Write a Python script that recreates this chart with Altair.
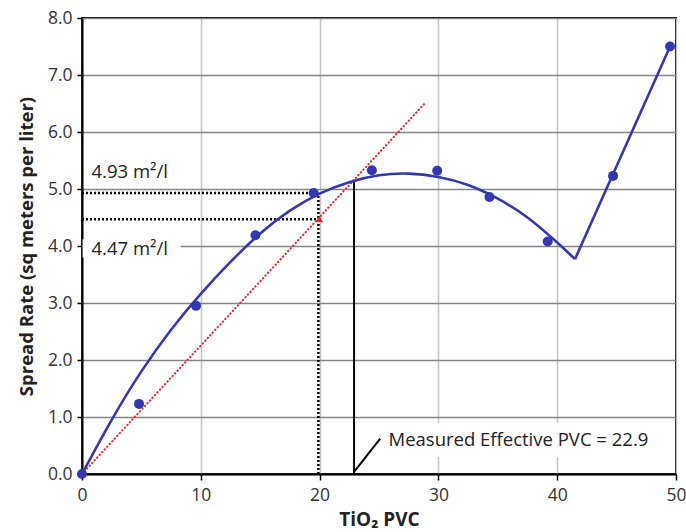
import altair as alt
import pandas as pd

# measured points
pvc = [0, 4.8, 9.6, 14.6, 19.5, 24.4, 29.9, 34.3, 39.2, 44.7, 49.5]
spread = [0, 1.23, 2.95, 4.19, 4.93, 5.33, 5.32, 4.86, 4.08, 5.23, 7.50]

# fitted curve (smooth part, then straight part)
curve_x = [0, 2.5, 5, 7.5, 10, 12.5, 15, 17.5, 20, 22.5, 25, 27.5, 30, 32.5, 35, 37.5, 40, 41.5]
curve_y = [0, 0.95, 1.80, 2.53, 3.16, 3.72, 4.22, 4.62, 4.92, 5.12, 5.24, 5.27, 5.21, 5.07, 4.83, 4.50, 4.06, 3.77]
line2_x = [41.5, 49.5]
line2_y = [3.77, 7.50]

# red dotted tangent line and marker
red_x = [0, 28.8]
red_y = [0, 6.49]
red_pt_x = [20]
red_pt_y = [4.47]

# dotted reference lines
dot_x1 = [0, 0, 19.9]
dot_x2 = [19.9, 19.9, 19.9]
dot_y1 = [4.93, 4.47, 0]
dot_y2 = [4.93, 4.47, 4.93]

# effective PVC marker
eff_pvc = 22.9
eff_top = 5.16

labels = ["4.93 m²/l", "4.47 m²/l", "Measured Effective PVC = 22.9"]
label_x = [0.8, 0.8, 25.8]
label_y = [5.3, 3.95, 0.6]

FONT = "Open Sans"
BLUE = "#3438b0"

xs = alt.Scale(domain=[0, 50], nice=False)
ys = alt.Scale(domain=[0, 8], nice=False)

x_axis = alt.Axis(values=[0, 10, 20, 30, 40, 50], title="TiO₂ PVC",
                  grid=True, gridColor="#c4c4c4", gridWidth=1.5,
                  domainColor="black", domainWidth=2, tickColor="black", tickWidth=1.5,
                  tickSize=6, labelPadding=6, labelFontSize=17.5, labelColor="#333",
                  labelFont=FONT, titleFont=FONT, titleFontSize=19, titleFontWeight="bold",
                  titleColor="#222", titlePadding=7, labelFlush=False)
y_axis = alt.Axis(values=[0, 1, 2, 3, 4, 5, 6, 7, 8], format=".1f",
                  title="Spread Rate (sq meters per liter)",
                  grid=True, gridColor="#858585", gridWidth=1.5,
                  domainColor="black", domainWidth=2, tickColor="black", tickWidth=1.5,
                  tickSize=5, labelPadding=5, labelFontSize=17.5, labelColor="#333",
                  labelFont=FONT, titleFont=FONT, titleFontSize=18.5, titleFontWeight="bold",
                  titleColor="#222", titlePadding=11)

base_axes = alt.Chart(pd.DataFrame({"x": [0], "y": [0]})).mark_point(opacity=0).encode(
    x=alt.X("x:Q", scale=xs, axis=x_axis),
    y=alt.Y("y:Q", scale=ys, axis=y_axis),
)

X = lambda f: alt.X(f, scale=xs)
Y = lambda f: alt.Y(f, scale=ys)

# white boxes behind labels
box_df = pd.DataFrame({"x": [0.05, 25.4], "x2": [8.3, 48.8], "y": [3.8, 0.3], "y2": [4.12, 0.9]})
boxes = alt.Chart(box_df).mark_rect(color="white").encode(
    x=X("x:Q"), x2="x2", y=Y("y:Q"), y2="y2")

dots_df = pd.DataFrame({"x": dot_x1, "x2": dot_x2, "y": dot_y1, "y2": dot_y2})
dots = alt.Chart(dots_df).mark_rule(color="black", strokeWidth=2.5, strokeDash=[2, 2]).encode(
    x=X("x:Q"), x2="x2", y=Y("y:Q"), y2="y2")

red_df = pd.DataFrame({"x": red_x, "y": red_y})
red_line = alt.Chart(red_df).mark_line(color="#e8262a", strokeWidth=2, strokeDash=[0.5, 3.2],
                                       strokeCap="round").encode(
    x=X("x:Q"), y=Y("y:Q"))
red_pt = alt.Chart(pd.DataFrame({"x": red_pt_x, "y": red_pt_y})).mark_point(
    shape="triangle-up", filled=True, color="#e8262a", size=50, opacity=1).encode(
    x=X("x:Q"), y=Y("y:Q"))

eff_df = pd.DataFrame({"x": [eff_pvc], "y": [0], "y2": [eff_top]})
eff_line = alt.Chart(eff_df).mark_rule(color="black", strokeWidth=2).encode(
    x=X("x:Q"), y=Y("y:Q"), y2="y2")
arrow_df = pd.DataFrame({"x": [25.1], "x2": [eff_pvc + 0.05], "y": [0.62], "y2": [0.05]})
arrow = alt.Chart(arrow_df).mark_rule(color="black", strokeWidth=2).encode(
    x=X("x:Q"), x2="x2", y=Y("y:Q"), y2="y2")

curve_df = pd.DataFrame({"x": curve_x, "y": curve_y})
curve = alt.Chart(curve_df).mark_line(color=BLUE, strokeWidth=2.6, interpolate="natural").encode(
    x=X("x:Q"), y=Y("y:Q"))
line2 = alt.Chart(pd.DataFrame({"x": line2_x, "y": line2_y})).mark_line(
    color=BLUE, strokeWidth=2.6).encode(x=X("x:Q"), y=Y("y:Q"))

pts = alt.Chart(pd.DataFrame({"x": pvc, "y": spread})).mark_circle(
    color=BLUE, size=100, opacity=1).encode(x=X("x:Q"), y=Y("y:Q"))

txt = alt.Chart(pd.DataFrame({"x": label_x, "y": label_y, "t": labels})).mark_text(
    align="left", baseline="middle", font=FONT, fontSize=18.5, color="#222").encode(
    x=X("x:Q"), y=Y("y:Q"), text="t:N")

chart = alt.layer(base_axes, boxes, dots, red_line, eff_line, arrow, curve, line2, pts, red_pt, txt).properties(
    width=594, height=456,
    autosize=alt.AutoSizeParams(type="none"),
    padding={"left": 82, "top": 18, "right": 10, "bottom": 58},
    background="white",
).configure_view(stroke="black", strokeWidth=2)

chart.save("out.html", embed_options={"renderer": "svg", "actions": False})
